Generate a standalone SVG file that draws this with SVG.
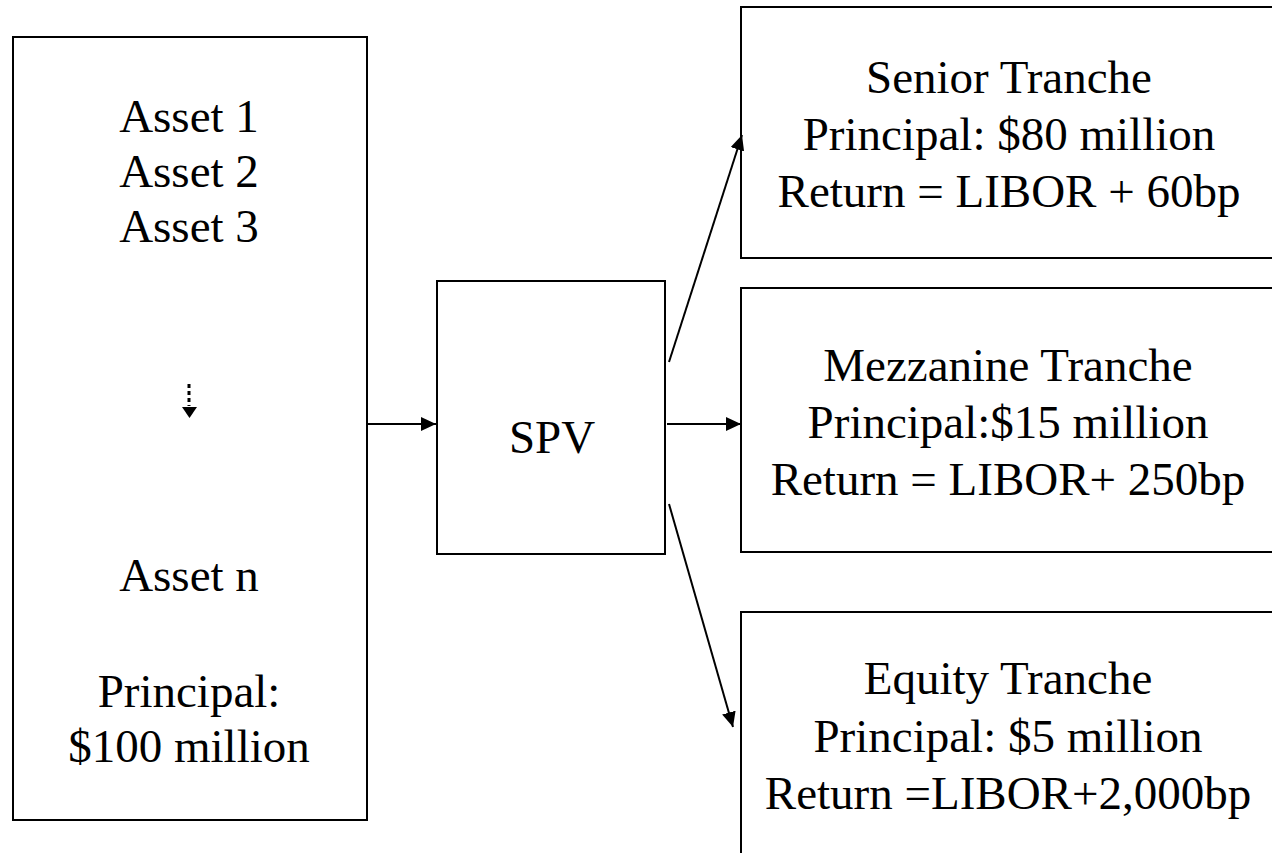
<svg xmlns="http://www.w3.org/2000/svg" width="1272" height="853" viewBox="0 0 1272 853">
<style>
.box{fill:#fff;stroke:#000;stroke-width:2}
.t{font-family:'Liberation Serif','Times New Roman',Times,Tinos,'Noto Serif','DejaVu Serif',serif;font-size:47px;fill:#000;text-anchor:middle}
.c{stroke:#000;stroke-width:2;fill:none}
</style>
<defs>
<marker id="ah" markerUnits="userSpaceOnUse" markerWidth="16" markerHeight="14" refX="15" refY="7" orient="auto">
<path d="M0,0 L15,7 L0,14 Z" fill="#000"/>
</marker>
</defs>
<rect width="1272" height="853" fill="#fff"/>
<g id="assets">
<rect class="box" x="13" y="37" width="354" height="783"/>
<text class="t" x="189" y="132">Asset 1</text>
<text class="t" x="189" y="187">Asset 2</text>
<text class="t" x="189" y="242">Asset 3</text>
<line x1="189" y1="384" x2="189" y2="406" stroke="#000" stroke-width="3" stroke-dasharray="4,3"/>
<path d="M182,407 L197,407 L189.5,418 Z" fill="#000"/>
<text class="t" x="189" y="591">Asset n</text>
<text class="t" x="189" y="707">Principal:</text>
<text class="t" x="189" y="762">$100 million</text>
</g>
<g id="spv">
<rect class="box" x="437" y="281" width="228" height="273"/>
<text class="t" x="552" y="453">SPV</text>
</g>
<g id="senior">
<rect class="box" x="741" y="7" width="545" height="251"/>
<text class="t" x="1009" y="93">Senior Tranche</text>
<text class="t" x="1009" y="150">Principal: $80 million</text>
<text class="t" x="1009" y="207">Return = LIBOR + 60bp</text>
</g>
<g id="mezzanine">
<rect class="box" x="741" y="288" width="545" height="264"/>
<text class="t" x="1008" y="381">Mezzanine Tranche</text>
<text class="t" x="1008" y="438">Principal:$15 million</text>
<text class="t" x="1008" y="495">Return = LIBOR+ 250bp</text>
</g>
<g id="equity">
<rect class="box" x="741" y="612" width="545" height="260"/>
<text class="t" x="1008" y="694">Equity Tranche</text>
<text class="t" x="1008" y="752">Principal: $5 million</text>
<text class="t" x="1008" y="809">Return =LIBOR+2,000bp</text>
</g>
<g id="connectors">
<line class="c" x1="367" y1="424" x2="436" y2="424" marker-end="url(#ah)"/>
<line class="c" x1="667" y1="424" x2="741" y2="424" marker-end="url(#ah)"/>
<line class="c" x1="669" y1="362" x2="742" y2="135" marker-end="url(#ah)"/>
<line class="c" x1="669" y1="504" x2="733" y2="727" marker-end="url(#ah)"/>
</g>
</svg>
